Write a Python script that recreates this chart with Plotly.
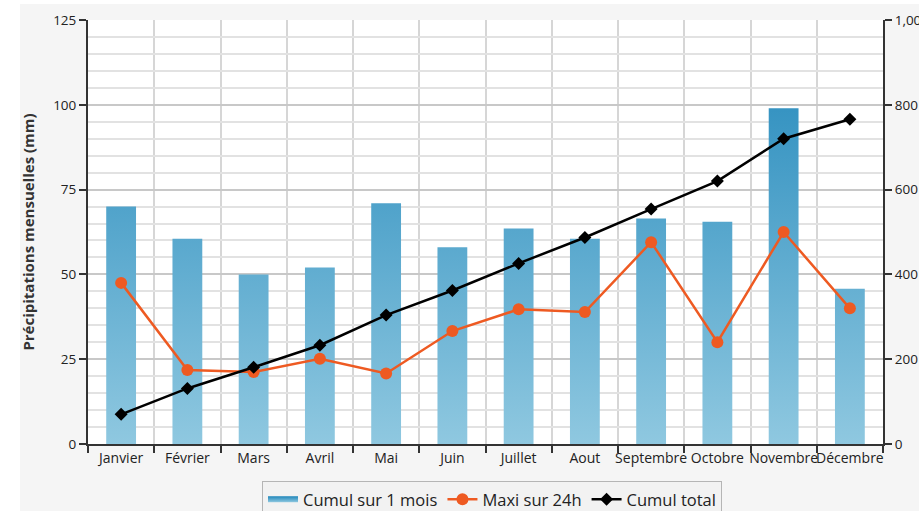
import plotly.graph_objects as go

months = ["Janvier", "Février", "Mars", "Avril", "Mai", "Juin", "Juillet",
          "Aout", "Septembre", "Octobre", "Novembre", "Décembre"]
cumul_mois = [70, 60.5, 50, 52, 71, 58, 63.5, 60.5, 66.5, 65.5, 99, 45.8]
maxi_24h = [47.5, 21.8, 21.2, 25.1, 20.8, 33.3, 39.7, 38.9, 59.5, 30.0, 62.5, 40.0]
cumul_total = [70, 131, 181, 233, 304, 362, 426, 487, 554, 620, 720, 766]

idx = list(range(len(months)))
half = 0.225

# Build bar polygons from the data (one closed shape per month)
bx, by = [], []
for i, v in zip(idx, cumul_mois):
    bx += [i - half, i + half, i + half, i - half, i - half, None]
    by += [0, 0, v, v, 0, None]

FONT = "Open Sans, DejaVu Sans, sans-serif"

fig = go.Figure()
fig.add_trace(go.Scatter(
    x=bx, y=by, mode="none", fill="toself", name="Cumul sur 1 mois",
    fillgradient=dict(type="vertical", start=0, stop=125,
                      colorscale=[[0, "#8fc8e0"], [1, "#1f86ba"]]),
    hoverinfo="skip"))
fig.add_trace(go.Scatter(
    x=idx, y=maxi_24h, mode="lines+markers", name="Maxi sur 24h",
    line=dict(color="#ee5a22", width=2.5),
    marker=dict(symbol="circle", size=12, color="#ee5a22")))
fig.add_trace(go.Scatter(
    x=idx, y=cumul_total, mode="lines+markers", name="Cumul total", yaxis="y2",
    line=dict(color="#000000", width=2.5),
    marker=dict(symbol="diamond", size=10, color="#000000")))

xfont = dict(family=FONT, size=14, color="#222")
yfont = dict(family=FONT, size=13.5, color="#222")

L, R, T, B = 88, 36, 20, 67
W, H = 919, 511
pw, ph = W - L - R, H - T - B

fig.update_layout(
    width=W, height=H,
    margin=dict(l=L, r=R, t=T, b=B),
    paper_bgcolor="#ffffff",
    plot_bgcolor="#ffffff",
    font=xfont,
    showlegend=True,
    legend=dict(orientation="h", xref="container", x=492 / W, xanchor="center",
                yref="container", y=(H - 481) / H, yanchor="top",
                bgcolor="#f2f2f2", bordercolor="#b5b5b5",
                borderwidth=1, font=dict(family=FONT, size=16.5, color="#222"),
                traceorder="normal"),
    xaxis=dict(
        range=[-0.5, 11.5], tickmode="array", tickvals=idx, ticktext=months,
        showgrid=False, ticks="", zeroline=False, automargin=False, tickangle=0,
        showline=True, linecolor="#333", linewidth=2,
        tickfont=xfont,
        minor=dict(tickmode="array", tickvals=[i - 0.5 for i in range(13)],
                   ticks="outside", ticklen=7, tickcolor="#333", tickwidth=2,
                   showgrid=True, gridcolor="#d6d6d6", gridwidth=2),
    ),
    yaxis=dict(
        range=[0, 125], tickmode="linear", tick0=0, dtick=25,
        showgrid=True, gridcolor="#c8c8c8", gridwidth=2, automargin=False,
        zeroline=False, showline=True, linecolor="#333", linewidth=2,
        ticks="outside", ticklen=7, tickcolor="#333", tickwidth=2,
        tickfont=yfont,
        minor=dict(dtick=5, showgrid=True, gridcolor="#e2e2e2", gridwidth=2),
        title=dict(text="<b>Précipitations mensuelles (mm)</b>",
                   font=dict(family=FONT, size=15, color="#333")),
    ),
    yaxis2=dict(
        range=[0, 1000], overlaying="y", side="right", tickmode="linear",
        tick0=0, dtick=200, tickformat=",", showgrid=False, zeroline=False,
        showline=True, linecolor="#333", linewidth=2, automargin=False,
        ticks="outside", ticklen=7, tickcolor="#333", tickwidth=2,
        tickfont=yfont,
    ),
    shapes=[
        dict(type="rect", xref="paper", yref="paper", layer="below",
             x0=(20 - L) / pw, x1=(W - L) / pw, y0=(444 - H) / ph, y1=(444 - 4) / ph,
             fillcolor="#f5f5f5", line=dict(width=0)),
        dict(type="rect", xref="paper", yref="paper", layer="below",
             x0=0, x1=1, y0=0, y1=1, fillcolor="#ffffff", line=dict(width=0)),
    ],
)

fig.write_html("out.html")
